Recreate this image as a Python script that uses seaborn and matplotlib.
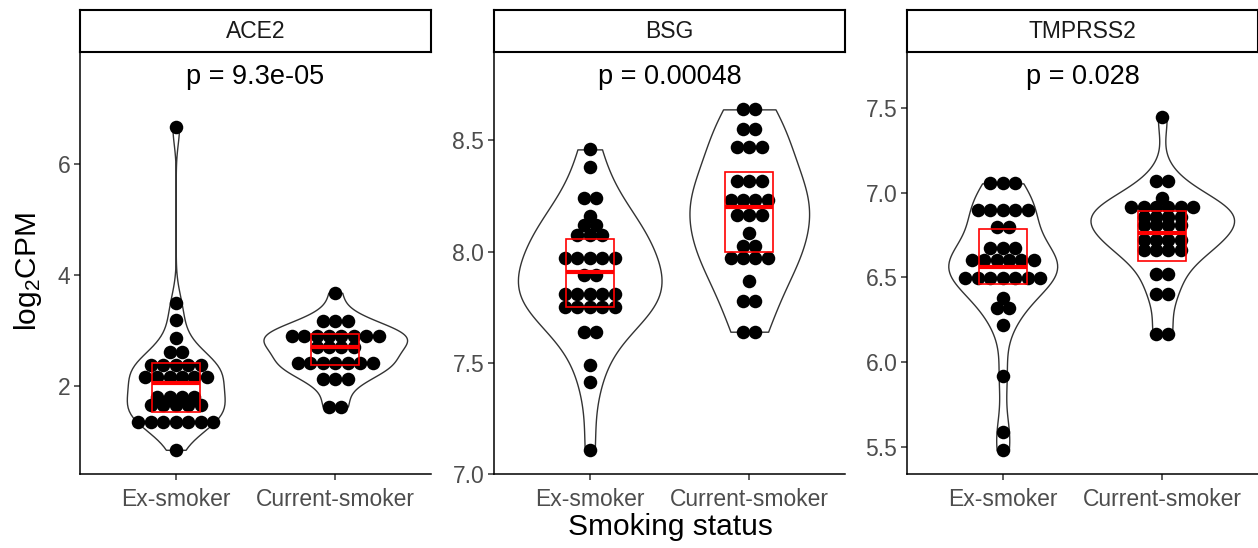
import numpy as np
import pandas as pd
import matplotlib
matplotlib.use("Agg")
import matplotlib.pyplot as plt
from matplotlib.patches import Rectangle
import seaborn as sns

# ---------------------------------------------------------------- data
genes = ["ACE2", "BSG", "TMPRSS2"]
groups = ["Ex-smoker", "Current-smoker"]
p_labels = ["p = 9.3e-05", "p = 0.00048", "p = 0.028"]

# log2CPM levels and the number of samples at each level
ace2_ex_levels = [6.67, 3.49, 3.19, 2.86, 2.62, 2.38, 2.17, 1.81, 1.66, 1.36, 0.85]
ace2_ex_counts = [1, 1, 1, 1, 2, 5, 6, 4, 5, 7, 1]
ace2_cur_levels = [3.68, 3.18, 2.91, 2.71, 2.41, 2.12, 1.63]
ace2_cur_counts = [1, 3, 8, 4, 7, 3, 2]

bsg_ex_levels = [8.46, 8.38, 8.24, 8.16, 8.12, 8.076, 7.97, 7.897, 7.81, 7.75,
                 7.64, 7.49, 7.415, 7.11]
bsg_ex_counts = [1, 1, 2, 1, 2, 3, 5, 2, 5, 5, 2, 1, 1, 1]
bsg_cur_levels = [8.64, 8.55, 8.47, 8.316, 8.234, 8.166, 8.084, 8.024, 7.97,
                  7.87, 7.78, 7.64]
bsg_cur_counts = [2, 2, 3, 3, 4, 3, 1, 2, 4, 1, 2, 2]

tmprss2_ex_levels = [7.055, 6.898, 6.80, 6.672, 6.60, 6.495, 6.377, 6.32, 6.22,
                     5.92, 5.59, 5.48]
tmprss2_ex_counts = [3, 5, 2, 3, 6, 7, 1, 2, 1, 1, 1, 1]
tmprss2_cur_levels = [7.445, 7.07, 6.967, 6.917, 6.858, 6.81, 6.72, 6.66, 6.52,
                      6.40, 6.165]
tmprss2_cur_counts = [1, 2, 1, 6, 4, 4, 4, 4, 2, 2, 2]

# summary crossbars (lower, middle, upper) for Ex-smoker / Current-smoker
box_lower = {"ACE2": [1.54, 2.38], "BSG": [7.75, 7.997], "TMPRSS2": [6.461, 6.597]}
box_middle = {"ACE2": [2.06, 2.70], "BSG": [7.91, 8.20], "TMPRSS2": [6.563, 6.764]}
box_upper = {"ACE2": [2.41, 2.94], "BSG": [8.058, 8.36], "TMPRSS2": [6.786, 6.894]}

y_limits = {"ACE2": (0.414, 8.02), "BSG": (7.003, 8.898), "TMPRSS2": (5.34, 7.83)}
y_ticks = {"ACE2": [2, 4, 6],
           "BSG": [7.0, 7.5, 8.0, 8.5],
           "TMPRSS2": [5.5, 6.0, 6.5, 7.0, 7.5]}
y_tick_labels = {"ACE2": ["2", "4", "6"],
                 "BSG": ["7.0", "7.5", "8.0", "8.5"],
                 "TMPRSS2": ["5.5", "6.0", "6.5", "7.0", "7.5"]}

levels = {
    "ACE2": [(ace2_ex_levels, ace2_ex_counts), (ace2_cur_levels, ace2_cur_counts)],
    "BSG": [(bsg_ex_levels, bsg_ex_counts), (bsg_cur_levels, bsg_cur_counts)],
    "TMPRSS2": [(tmprss2_ex_levels, tmprss2_ex_counts),
                (tmprss2_cur_levels, tmprss2_cur_counts)],
}

rows = []
for gene in genes:
    for grp, (vals, cnts) in zip(groups, levels[gene]):
        for v, c in zip(vals, cnts):
            rows += [{"gene": gene, "status": grp, "log2CPM": v}] * c
df = pd.DataFrame(rows)

# ---------------------------------------------------------------- style
sns.set_theme(style="ticks")
plt.rcParams["font.family"] = ["Liberation Sans", "DejaVu Sans"]
plt.rcParams["mathtext.default"] = "regular"

W, H = 1258, 548
fig = plt.figure(figsize=(W / 100, H / 100), dpi=100)


def nrd0(kde):
    """Silverman's rule of thumb as used by R's density()."""
    x = kde.dataset[0]
    sd = np.std(x, ddof=1)
    q75, q25 = np.percentile(x, [75, 25])
    lo = min(sd, (q75 - q25) / 1.34)
    if lo <= 0:
        lo = sd
    bw = 0.9 * lo * len(x) ** (-0.2)
    return bw / sd


def stack_dots(vals, cnts, center, step):
    xs, ys = [], []
    for v, c in zip(vals, cnts):
        for i in range(c):
            xs.append(center + (i - (c - 1) / 2) * step)
            ys.append(v)
    return xs, ys


panel_left = [80, 494, 907]
panel_w = 351
panel_top, panel_bottom = 52, 474
strip_top = 10

axis_col = "#333333"
tick_text = "#4D4D4D"

for gi, gene in enumerate(genes):
    ax = fig.add_axes([panel_left[gi] / W, (H - panel_bottom) / H,
                       panel_w / W, (panel_bottom - panel_top) / H])
    sub = df[df["gene"] == gene]

    sns.violinplot(data=sub, x="status", y="log2CPM", order=groups, ax=ax,
                   color="white", linecolor=axis_col, linewidth=1.0,
                   cut=0, inner=None, density_norm="area", width=0.9,
                   bw_method=nrd0, bw_adjust=1.3, saturation=1)

    for k, (vals, cnts) in enumerate(levels[gene]):
        xs, ys = stack_dots(vals, cnts, k, 0.078)
        sns.scatterplot(x=xs, y=ys, ax=ax, color="black", s=95,
                        linewidth=0, zorder=3, legend=False)
        lo, mid, hi = box_lower[gene][k], box_middle[gene][k], box_upper[gene][k]
        ax.add_patch(Rectangle((k - 0.15, lo), 0.3, hi - lo, fill=False,
                               edgecolor="red", linewidth=1.2, zorder=4))
        ax.plot([k - 0.15, k + 0.15], [mid, mid], color="red", linewidth=3.0,
                solid_capstyle="butt", zorder=5)

    ax.set_xlim(-0.6, 1.6)
    ax.set_ylim(*y_limits[gene])
    ax.set_yticks(y_ticks[gene])
    ax.set_yticklabels(y_tick_labels[gene])
    ax.set_xticks([0, 1])
    ax.set_xticklabels(groups)
    ax.set_xlabel("")
    ax.set_ylabel("")
    sns.despine(ax=ax)
    for side in ("left", "bottom"):
        ax.spines[side].set_linewidth(1.1)
        ax.spines[side].set_color("black")
    ax.tick_params(axis="both", direction="out", length=4, width=1.1,
                   color=axis_col, labelcolor=tick_text, labelsize=16.5)
    ax.tick_params(axis="x", pad=6)
    ax.tick_params(axis="y", pad=3)

    ax.text(0.5, 0.94, p_labels[gi], transform=ax.transAxes, ha="center",
            va="center", fontsize=19.5, color="black")

    # facet strip
    sax = fig.add_axes([panel_left[gi] / W, (H - panel_top) / H,
                        panel_w / W, (panel_top - strip_top) / H])
    sax.set_xticks([])
    sax.set_yticks([])
    sax.set_facecolor("white")
    for sp in sax.spines.values():
        sp.set_visible(True)
        sp.set_linewidth(1.5)
        sp.set_color("black")
    sax.text(0.5, 0.5, gene, ha="center", va="center", fontsize=16.5,
             color="#1A1A1A", transform=sax.transAxes)

fig.text(28 / W, (H - 272) / H, "log$_2$CPM", rotation=90, ha="center",
         va="center", fontsize=21.5, color="black")
fig.text(670 / W, (H - 527) / H, "Smoking status", ha="center", va="center",
         fontsize=21.5, color="black")

fig.savefig("out.png", dpi=100)
